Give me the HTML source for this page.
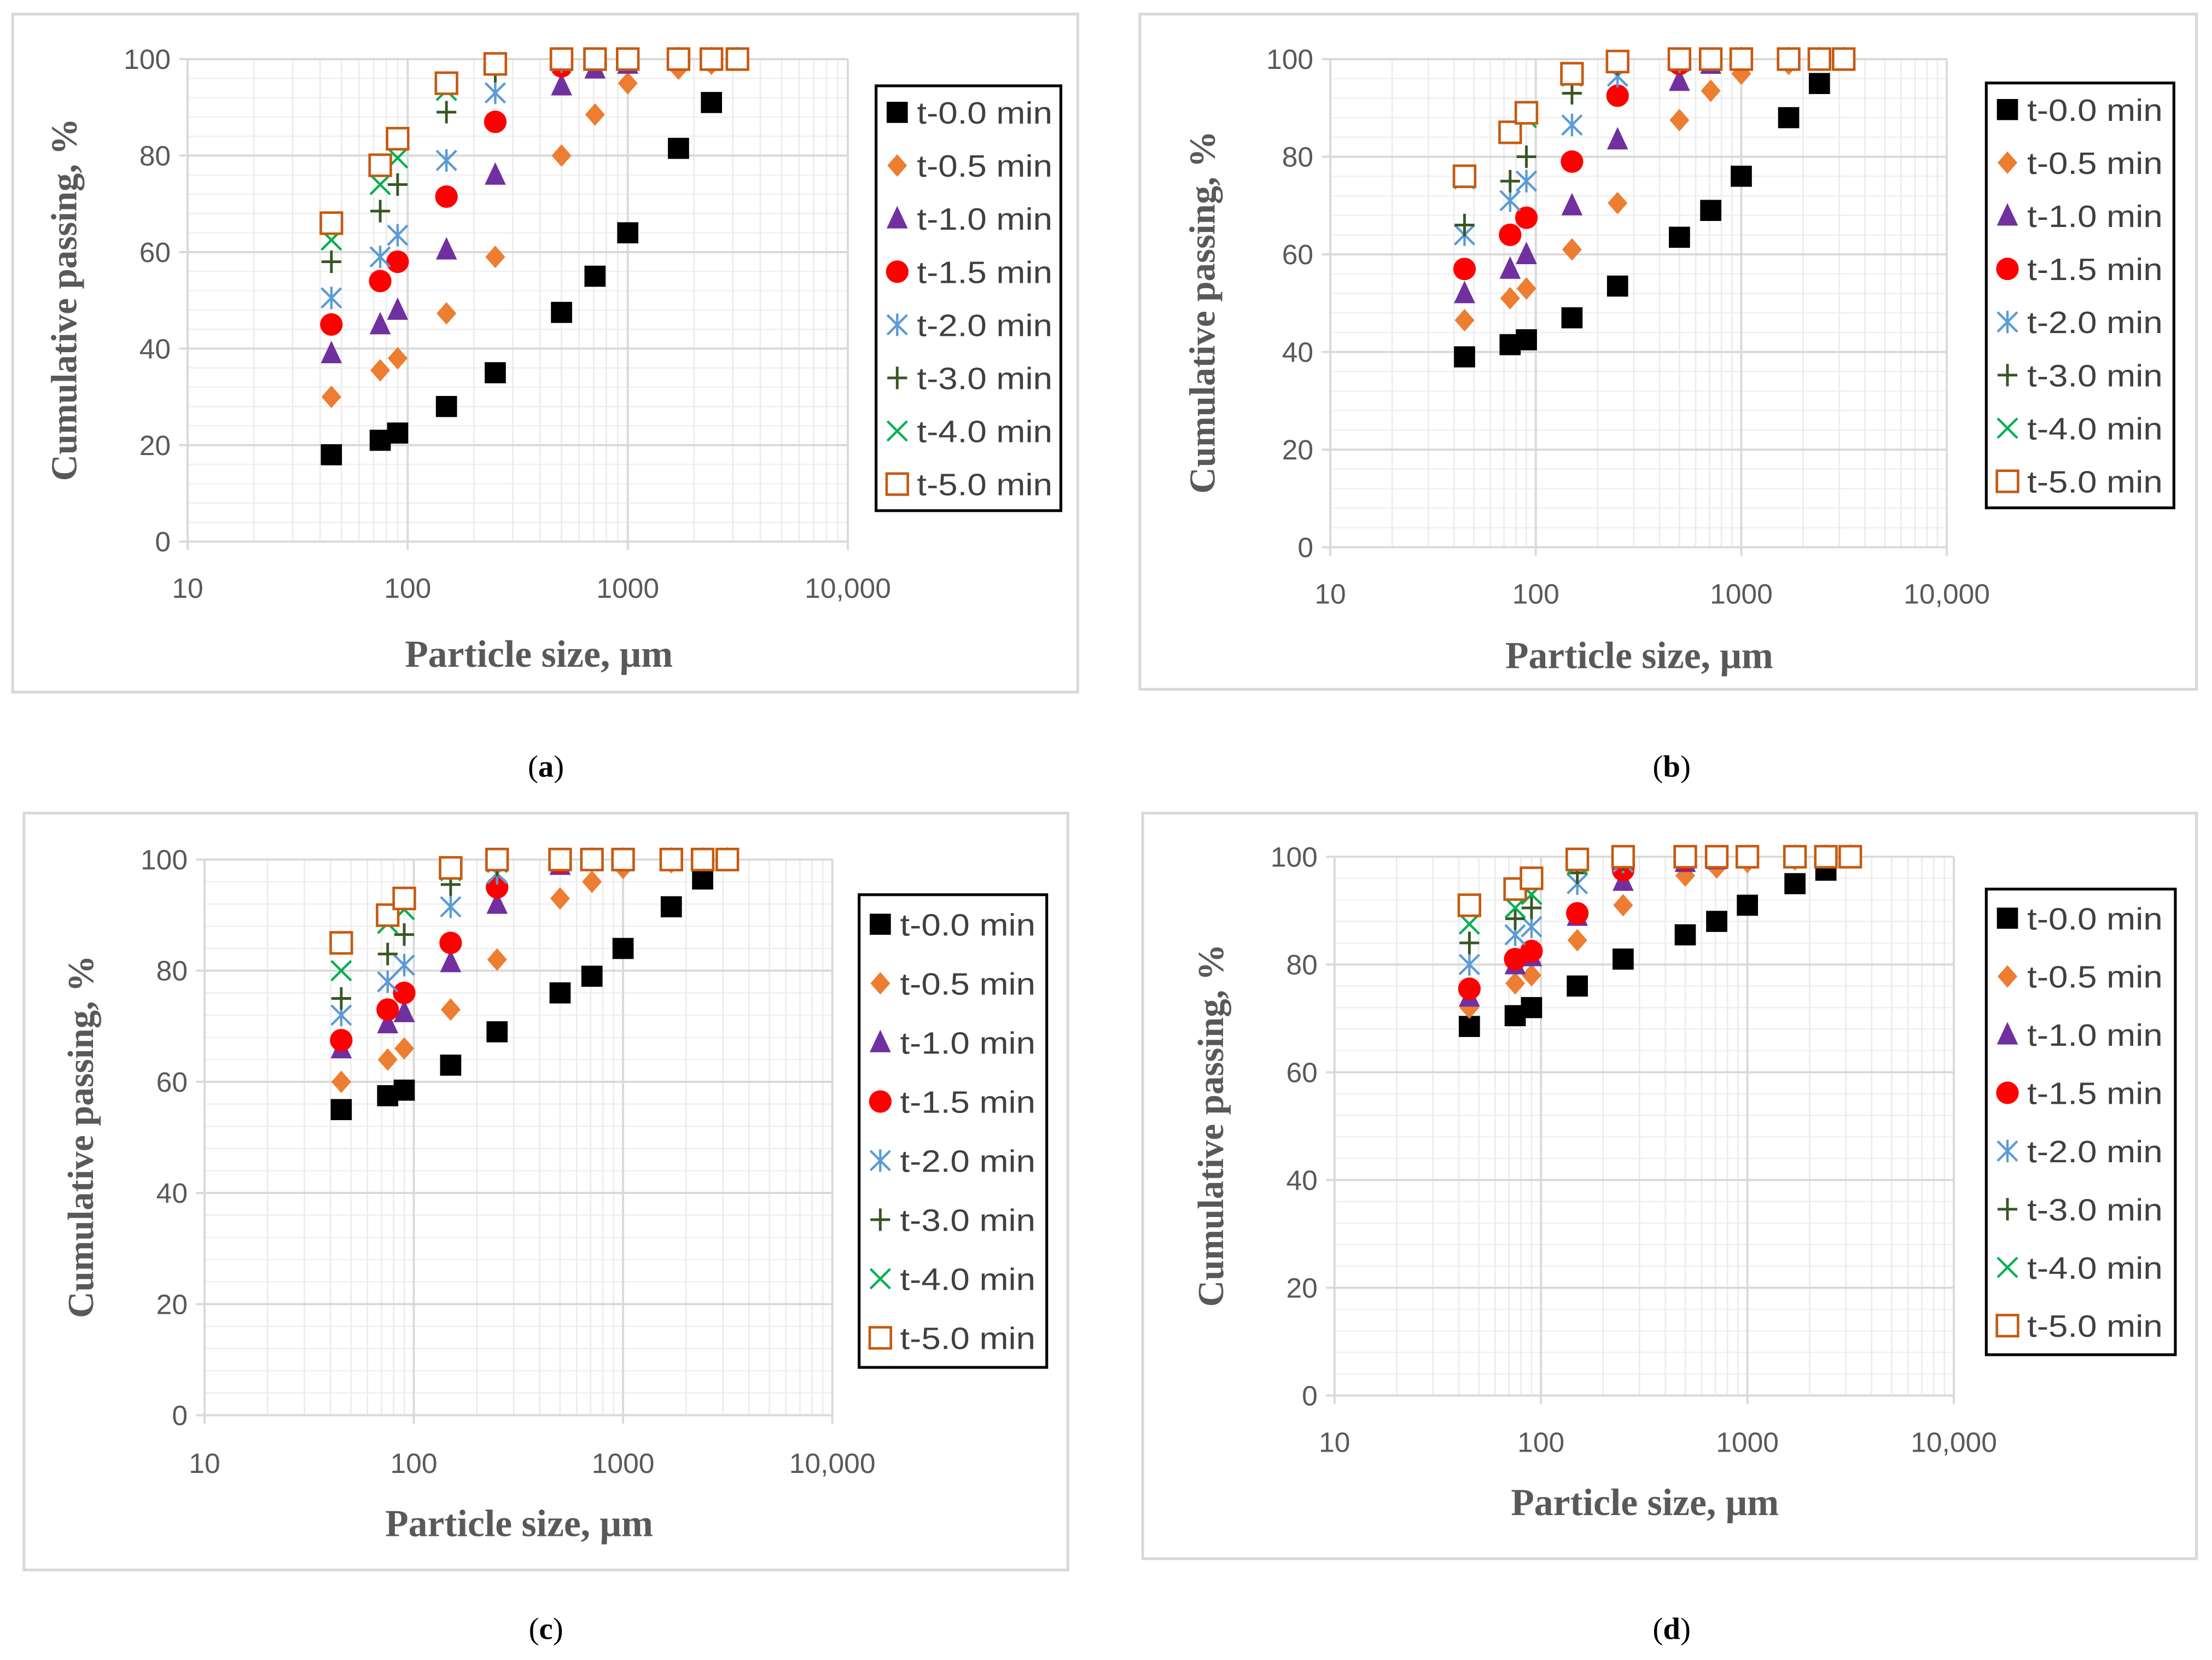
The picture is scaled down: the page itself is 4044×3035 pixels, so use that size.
<!DOCTYPE html>
<html><head><meta charset="utf-8"><style>
html,body{margin:0;padding:0;background:#fff;}
svg{display:block;}
</style></head><body>
<svg id="fig" xmlns="http://www.w3.org/2000/svg" width="4044" height="3035" viewBox="0 0 1568 1180" preserveAspectRatio="none"></svg>
<script>
const sizes = [45, 75, 90, 150, 250, 500, 710, 1000, 1700, 2400, 3150];
const seriesNames = ["t-0.0 min","t-0.5 min","t-1.0 min","t-1.5 min","t-2.0 min","t-3.0 min","t-4.0 min","t-5.0 min"];
const dataA = [
 [18,21,22.5,28,35,47.5,55,64,81.5,91,100],
 [30,35.5,38,47.3,59,80,88.5,95,98,99,100],
 [39,45,48,60.5,76,94.5,98,99,100,100,100],
 [45,54,58,71.5,87,98.5,100,100,100,100,100],
 [50.5,59,63.5,79,93,99.5,100,100,100,100,100],
 [58,68.5,74,89,97.5,100,100,100,100,100,100],
 [62.5,74,79.5,93.5,99,100,100,100,100,100,100],
 [66,78,83.5,95,99,100,100,100,100,100,100]];
const dataB = [
 [39,41.5,42.5,47,53.5,63.5,69,76,88,95,100],
 [46.5,51,53,61,70.5,87.5,93.5,97,99,100,100],
 [52,57,60,70,83.5,95.5,99,100,100,100,100],
 [57,64,67.5,79,92.5,99,100,100,100,100,100],
 [64,71,75,86.5,96.5,99.5,100,100,100,100,100],
 [66,75,80,93,99,100,100,100,100,100,100],
 [75.5,85,88,96.5,99.5,100,100,100,100,100,100],
 [76,85,89,97,99.5,100,100,100,100,100,100]];
const dataC = [
 [55,57.5,58.5,63,69,76,79,84,91.5,96.5,100],
 [60,64,66,73,82,93,96,98.5,99.5,100,100],
 [66,70.5,72.5,81.5,92,99,100,100,100,100,100],
 [67.5,73,76,85,95,99.5,100,100,100,100,100],
 [72,78,81,91.5,97.5,100,100,100,100,100,100],
 [75,83,86.5,95.5,99,100,100,100,100,100,100],
 [80,88.5,91,98,99.5,100,100,100,100,100,100],
 [85,90,93,98.5,100,100,100,100,100,100,100]];
const dataD = [
 [68.5,70.5,72,76,81,85.5,88,91,95,97.5,100],
 [72,76.5,78,84.5,91,96.5,98,99,99.5,100,100],
 [74,80,81.5,89,95.5,99,99.5,100,100,100,100],
 [75.5,81,82.5,89.5,97.5,99.5,100,100,100,100,100],
 [80,85.5,87,95,99,100,100,100,100,100,100],
 [84,88.5,90.5,97,99.5,100,100,100,100,100,100],
 [87.5,90.5,93,98.5,100,100,100,100,100,100,100],
 [91,94,96,99.5,100,100,100,100,100,100,100]];
const yTicks = [0,20,40,60,80,100];
const xTickVals = [10,100,1000,10000];
const xTickLabels = ["10","100","1000","10,000"];

const NS="http://www.w3.org/2000/svg";
const svg=document.getElementById('fig');
function mk(tag,attrs,parent){const e=document.createElementNS(NS,tag);for(const k in attrs)e.setAttribute(k,attrs[k]);(parent||svg).appendChild(e);return e;}
const colors=["#000000","#ED7D31","#7030A0","#FF0000","#5B9BD5","#375623","#00B050","#C55A11"];

function marker(g,i,x,y){
  const c=colors[i];let m;const s=1.15;
  if(i===0){m=mk('rect',{x:x-7.5,y:y-7.5,width:15,height:15,fill:c},g);}
  else if(i===1){m=mk('polygon',{points:`${x},${y-8} ${x+7},${y} ${x},${y+8} ${x-7},${y}`,fill:c},g);}
  else if(i===2){m=mk('polygon',{points:`${x},${y-9} ${x+7.5},${y+7} ${x-7.5},${y+7}`,fill:c},g);}
  else if(i===3){m=mk('circle',{cx:x,cy:y,r:8,fill:c},g);}
  else if(i===4){m=mk('path',{d:`M${x-7},${y-7}L${x+7},${y+7}M${x-7},${y+7}L${x+7},${y-7}M${x},${y-8}L${x},${y+8}`,stroke:c,'stroke-width':1.7,fill:'none'},g);}
  else if(i===5){m=mk('path',{d:`M${x-7},${y}L${x+7},${y}M${x},${y-8}L${x},${y+8}`,stroke:c,'stroke-width':1.9,fill:'none'},g);}
  else if(i===6){m=mk('path',{d:`M${x-7},${y-7}L${x+7},${y+7}M${x-7},${y+7}L${x+7},${y-7}`,stroke:c,'stroke-width':1.7,fill:'none'},g);}
  else {m=mk('rect',{x:x-7.5,y:y-7.5,width:15,height:15,fill:'#fff',stroke:c,'stroke-width':1.8},g);}
  return m;
}

const panels=[
 {id:'a',data:dataA,frame:[9,10,755,482],px0:133,px1:601,py100:42,py0:385,leg:[621,61,131,302],yt:[45,213],xt:[382,465],tk:418,cap:[387,545]},
 {id:'b',data:dataB,frame:[808,10,749,480],px0:943,px1:1380,py100:42,py0:389,leg:[1408,59,133,302],yt:[852,222],xt:[1162,466],tk:422,cap:[1185,545]},
 {id:'c',data:dataC,frame:[17,578,740,538],px0:145,px1:590,py100:611,py0:1006,leg:[609,636,133,336],yt:[57,808],xt:[368,1083],tk:1040,cap:[387,1158]},
 {id:'d',data:dataD,frame:[810,578,747,530],px0:946,px1:1385,py100:609,py0:992,leg:[1408,632,134,331],yt:[858,800],xt:[1166,1068],tk:1025,cap:[1185,1158]}
];

panels.forEach(p=>{
  const g=mk('g',{});
  
  
  const xs=v=>p.px0+(Math.log10(v)-1)/3*(p.px1-p.px0);
  const ys=v=>p.py0-(v/100)*(p.py0-p.py100);
  const fr=mk('rect',{x:p.frame[0],y:p.frame[1],width:p.frame[2],height:p.frame[3],fill:'#fff',stroke:'#d9d9d9','stroke-width':2},g);
  
  
  for(let v=0;v<=100;v+=4){ if(v%20) mk('line',{x1:p.px0,x2:p.px1,y1:ys(v),y2:ys(v),stroke:'#f0f0f0','stroke-width':1},g); }
  for(let d=10;d<10000;d*=10){for(let k=2;k<=9;k++){mk('line',{x1:xs(d*k),x2:xs(d*k),y1:p.py100,y2:p.py0,stroke:'#ebebeb','stroke-width':1},g);}}
  yTicks.forEach(v=>{mk('line',{x1:p.px0-6,x2:p.px1,y1:ys(v),y2:ys(v),stroke:'#d9d9d9','stroke-width':1.5},g);
    const t=mk('text',{x:p.px0-12,y:ys(v)+7,'text-anchor':'end','font-family':'Liberation Sans, sans-serif','font-size':20,fill:'#595959'},g);t.textContent=v;
    
    });
  xTickVals.forEach((v,i)=>{mk('line',{x1:xs(v),x2:xs(v),y1:p.py100,y2:p.py0+6,stroke:'#d9d9d9','stroke-width':1.5},g);
    const t=mk('text',{x:xs(v),y:p.tk+7,'text-anchor':'middle','font-family':'Liberation Sans, sans-serif','font-size':20,fill:'#595959'},g);t.textContent=xTickLabels[i];
    
    });
  const yt=mk('text',{x:p.yt[0],y:p.yt[1],'text-anchor':'middle','font-family':'Liberation Serif, serif','font-size':26,'font-weight':'bold',fill:'#595959',transform:`rotate(-90 ${p.yt[0]} ${p.yt[1]})`,dy:9},g);
  yt.textContent='Cumulative passing, %';
  
  
  const xt=mk('text',{x:p.xt[0],y:p.xt[1]+9,'text-anchor':'middle','font-family':'Liberation Serif, serif','font-size':27,'font-weight':'bold',fill:'#595959'},g);
  xt.textContent='Particle size, μm';
  
  
  p.data.forEach((vals,si)=>{
    const sg=mk('g',{},g);
    
    
    vals.forEach((v,j)=>{const m=marker(sg,si,xs(sizes[j]),ys(v));
      
      });
  });
  const L=p.leg;
  const lg=mk('g',{},g);
  
  
  mk('rect',{x:L[0],y:L[1],width:L[2],height:L[3],fill:'#fff',stroke:'#000','stroke-width':2},lg);
  const step=L[3]/8;
  seriesNames.forEach((n,i)=>{const cy=L[1]+step*(i+0.5);
    const e=mk('g',{},lg);
    
    
    marker(e,i,L[0]+15,cy);
    const t=mk('text',{x:L[0]+29,y:cy+8,'font-family':'Liberation Sans, sans-serif','font-size':22,fill:'#404040',textLength:96,lengthAdjust:'spacingAndGlyphs'},e);t.textContent=n;});
  const cap=mk('text',{x:p.cap[0],y:p.cap[1]+7,'text-anchor':'middle','font-family':'Liberation Serif, serif','font-size':22,fill:'#000'},svg);
  cap.innerHTML='(<tspan font-weight="bold">'+p.id+'</tspan>)';
  
  
});
</script>
</body></html>
